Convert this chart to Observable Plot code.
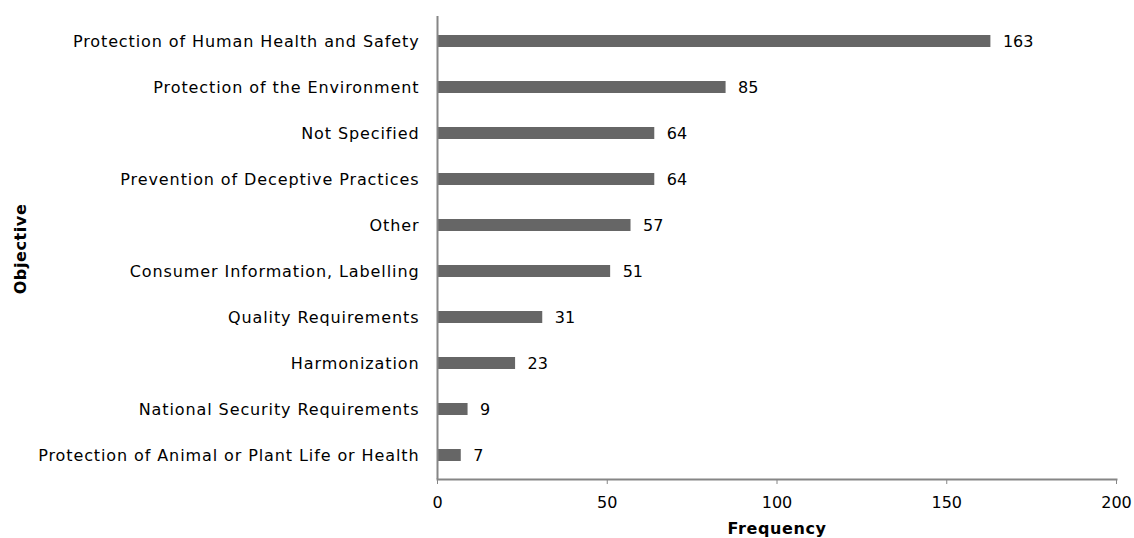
<!DOCTYPE html>
<html>
<head>
<meta charset="utf-8">
<script src="https://cdn.jsdelivr.net/npm/d3@7"></script>
<script src="https://cdn.jsdelivr.net/npm/@observablehq/plot@0.6"></script>
<style>
  html, body { margin: 0; padding: 0; background: #fff; }
  #chart { position: relative; width: 1134px; height: 538px; }
  .ylab { position: absolute; left: 20px; top: 249px; transform: translate(-50%, -50%) rotate(-90deg);
          font: bold 16px "DejaVu Sans", Verdana, sans-serif; letter-spacing: 0.6px; white-space: nowrap; color: #000; }
  .xlab { position: absolute; left: 777px; top: 528px; transform: translate(-50%, -50%);
          font: bold 16px "DejaVu Sans", Verdana, sans-serif; letter-spacing: 0.6px; white-space: nowrap; color: #000; }
  #chart svg g[aria-label="y-axis tick label"] text { letter-spacing: 0.9px; }
</style>
</head>
<body>
<div id="chart"></div>
<script>
const categories = [
  "Protection of Human Health and Safety",
  "Protection of the Environment",
  "Not Specified",
  "Prevention of Deceptive Practices",
  "Other",
  "Consumer Information, Labelling",
  "Quality Requirements",
  "Harmonization",
  "National Security Requirements",
  "Protection of Animal or Plant Life or Health"
];
const frequencies = [163, 85, 64, 64, 57, 51, 31, 23, 9, 7];
const xTicks = [0, 50, 100, 150, 200];

const data = categories.map((c, i) => ({category: c, value: frequencies[i]}));

const chart = Plot.plot({
  width: 1134,
  height: 538,
  marginTop: 16,
  marginBottom: 59,
  marginLeft: 437,
  marginRight: 18,
  style: {fontFamily: "'DejaVu Sans', Verdana, sans-serif", fontSize: "16px", color: "#000", background: "#fff"},
  x: {domain: [0, 200]},
  y: {domain: categories, paddingInner: 0.75, paddingOuter: 0.375, align: 0.5},
  marks: [
    Plot.barX(data, {x: "value", y: "category", fill: "#666666"}),
    Plot.text(data, {x: "value", y: "category", text: d => String(d.value), textAnchor: "start", dx: 12, fill: "#000", fontSize: 16}),
    Plot.axisX({ticks: xTicks, tickSize: 5, tickPadding: 12, stroke: "#868686", fill: "#000", label: null, fontSize: 16}),
    Plot.axisY({tickSize: 0, tickPadding: 18, fill: "#000", label: null, fontSize: 16}),
    Plot.frame({anchor: "bottom", stroke: "#868686", strokeWidth: 2}),
    Plot.ruleX([0], {stroke: "#868686", strokeWidth: 2})
  ]
});
const root = document.getElementById("chart");
root.appendChild(chart);
const yl = document.createElement("div"); yl.className = "ylab"; yl.textContent = "Objective"; root.appendChild(yl);
const xl = document.createElement("div"); xl.className = "xlab"; xl.textContent = "Frequency"; root.appendChild(xl);
</script>
</body>
</html>
